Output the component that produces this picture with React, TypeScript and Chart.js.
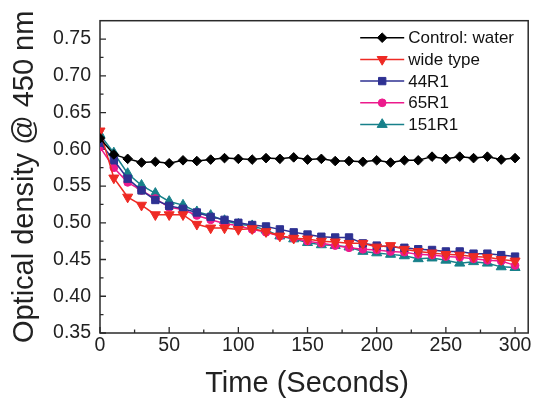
import React, { useEffect, useRef } from 'react';
import { Chart, registerables } from 'chart.js';
import { drawPoint } from 'chart.js/helpers';

Chart.register(...registerables);

const times = [0, 10, 20, 30, 40, 50, 60, 70, 80, 90, 100, 110, 120, 130, 140, 150, 160, 170, 180, 190, 200, 210, 220, 230, 240, 250, 260, 270, 280, 290, 300];

const controlWater = [0.615, 0.593, 0.587, 0.582, 0.583, 0.581, 0.585, 0.584, 0.586, 0.588, 0.587, 0.586, 0.588, 0.587, 0.589, 0.586, 0.587, 0.584, 0.584, 0.583, 0.585, 0.582, 0.585, 0.585, 0.590, 0.587, 0.590, 0.588, 0.590, 0.586, 0.588];
const wideType = [0.625, 0.561, 0.535, 0.524, 0.511, 0.511, 0.511, 0.498, 0.493, 0.493, 0.491, 0.492, 0.488, 0.482, 0.479, 0.478, 0.475, 0.474, 0.472, 0.472, 0.467, 0.469, 0.464, 0.461, 0.459, 0.457, 0.456, 0.454, 0.453, 0.450, 0.448];
const r44R1 = [0.609, 0.585, 0.560, 0.544, 0.531, 0.523, 0.519, 0.514, 0.508, 0.504, 0.500, 0.497, 0.495, 0.491, 0.487, 0.484, 0.481, 0.480, 0.480, 0.472, 0.469, 0.467, 0.466, 0.464, 0.463, 0.461, 0.461, 0.458, 0.458, 0.456, 0.454];
const r65R1 = [0.603, 0.575, 0.555, 0.544, 0.533, 0.521, 0.518, 0.510, 0.504, 0.499, 0.496, 0.491, 0.487, 0.482, 0.479, 0.475, 0.472, 0.469, 0.466, 0.464, 0.463, 0.461, 0.460, 0.457, 0.456, 0.454, 0.453, 0.451, 0.449, 0.448, 0.442];
const r151R1 = [0.620, 0.595, 0.567, 0.551, 0.540, 0.529, 0.524, 0.515, 0.510, 0.503, 0.498, 0.496, 0.490, 0.482, 0.478, 0.473, 0.470, 0.469, 0.467, 0.461, 0.459, 0.457, 0.455, 0.451, 0.452, 0.449, 0.445, 0.447, 0.445, 0.440, 0.439];

const seriesLabels = ['Control: water', 'wide type', '44R1', '65R1', '151R1'];
const xTitle = 'Time (Seconds)';
const yTitle = 'Optical density @ 450 nm';

const xTicks = [0, 50, 100, 150, 200, 250, 300];
const xMinorTicks = [25, 75, 125, 175, 225, 275];
const yTicks = [0.35, 0.4, 0.45, 0.5, 0.55, 0.6, 0.65, 0.7, 0.75];
const yMinorTicks = [0.375, 0.425, 0.475, 0.525, 0.575, 0.625, 0.675, 0.725];

const FONT = "'Liberation Sans', Arial, sans-serif";

const styles = [
  { color: '#000000', pointStyle: 'rectRot', radius: 4.8, rotation: 0 },
  { color: '#ee2a24', pointStyle: 'triangle', radius: 5.8, rotation: 180 },
  { color: '#2e3192', pointStyle: 'rect', radius: 5.2, rotation: 0 },
  { color: '#ec1a8c', pointStyle: 'circle', radius: 3.9, rotation: 0 },
  { color: '#17808a', pointStyle: 'triangle', radius: 5.8, rotation: 0 },
];

const framePlugin = {
  id: 'frameTicks',
  beforeDatasetsDraw(chart: any) {
    const { ctx, chartArea, scales } = chart;
    const { left, right, top, bottom } = chartArea;
    ctx.save();
    ctx.strokeStyle = '#2a2a2a';
    ctx.lineWidth = 1.5;
    ctx.strokeRect(left, top, right - left, bottom - top);
    ctx.lineWidth = 1.3;
    ctx.beginPath();
    xTicks.forEach((v) => {
      const px = scales.x.getPixelForValue(v);
      ctx.moveTo(px, bottom);
      ctx.lineTo(px, bottom - 6);
    });
    xMinorTicks.forEach((v) => {
      const px = scales.x.getPixelForValue(v);
      ctx.moveTo(px, bottom);
      ctx.lineTo(px, bottom - 3.5);
    });
    yTicks.forEach((v) => {
      const py = scales.y.getPixelForValue(v);
      ctx.moveTo(left, py);
      ctx.lineTo(left + 6, py);
    });
    yMinorTicks.forEach((v) => {
      const py = scales.y.getPixelForValue(v);
      ctx.moveTo(left, py);
      ctx.lineTo(left + 3.5, py);
    });
    ctx.stroke();
    ctx.restore();
  },
};

const legendPlugin = {
  id: 'lineLegend',
  afterDraw(chart: any) {
    const { ctx, chartArea } = chart;
    const { right, top, bottom } = chartArea;
    const x0 = right - 168;
    const x1 = right - 124;
    const tx = right - 120;
    ctx.save();
    seriesLabels.forEach((label, i) => {
      const y = top + 17 + i * 21.7;
      const s = styles[i];
      ctx.strokeStyle = s.color;
      ctx.lineWidth = 1.5;
      ctx.beginPath();
      ctx.moveTo(x0, y);
      ctx.lineTo(x1, y);
      ctx.stroke();
      ctx.fillStyle = s.color;
      ctx.strokeStyle = s.color;
      ctx.lineWidth = 1;
      drawPoint(ctx, { pointStyle: s.pointStyle, rotation: s.rotation, radius: s.radius, borderWidth: 1 } as any, (x0 + x1) / 2, y);
      ctx.fillStyle = '#111111';
      ctx.font = `17px ${FONT}`;
      ctx.textAlign = 'left';
      ctx.textBaseline = 'middle';
      ctx.fillText(label, tx, y + 1);
    });
    // x-axis title, slightly left of the plot centre as in the original
    ctx.fillStyle = '#222222';
    ctx.font = `29px ${FONT}`;
    ctx.textAlign = 'center';
    ctx.textBaseline = 'middle';
    ctx.fillText(xTitle, 307, bottom + 51);
    ctx.restore();
  },
};

export default function App() {
  const canvasRef = useRef<HTMLCanvasElement | null>(null);

  useEffect(() => {
    if (!canvasRef.current) return;
    const series = [controlWater, wideType, r44R1, r65R1, r151R1];
    const chart = new Chart(canvasRef.current, {
      type: 'line',
      data: {
        datasets: series.map((vals, i) => ({
          label: seriesLabels[i],
          data: times.map((t, j) => ({ x: t, y: vals[j] })),
          borderColor: styles[i].color,
          backgroundColor: styles[i].color,
          borderWidth: 1.5,
          pointStyle: styles[i].pointStyle as any,
          pointRadius: styles[i].radius,
          pointRotation: styles[i].rotation,
          pointBorderWidth: 1,
          pointBorderColor: styles[i].color,
          pointBackgroundColor: styles[i].color,
          tension: 0,
          fill: false,
        })),
      },
      options: {
        responsive: false,
        animation: false,
        layout: { padding: { top: 11, right: 5, left: 0, bottom: 0 } },
        plugins: {
          legend: { display: false },
          tooltip: { enabled: false },
        },
        scales: {
          x: {
            type: 'linear',
            min: 0,
            max: 309.5,
            grid: { display: false, drawTicks: false },
            border: { display: false },
            afterFit: (scale: any) => {
              scale.height = 69;
            },
            afterBuildTicks: (scale: any) => {
              scale.ticks = xTicks.map((v) => ({ value: v }));
            },
            ticks: {
              padding: 1,
              color: '#222222',
              font: { family: FONT, size: 19.5 },
              callback: (v: any) => String(v),
            },
            title: { display: false, text: xTitle },
          },
          y: {
            type: 'linear',
            min: 0.35,
            max: 0.775,
            grid: { display: false, drawTicks: false },
            border: { display: false },
            afterFit: (scale: any) => {
              scale.width = 100;
            },
            afterBuildTicks: (scale: any) => {
              scale.ticks = yTicks.map((v) => ({ value: v }));
            },
            ticks: {
              padding: 9,
              color: '#222222',
              font: { family: FONT, size: 19.5 },
              callback: (v: any) => Number(v).toFixed(2),
            },
            title: {
              display: true,
              text: yTitle,
              color: '#222222',
              font: { family: FONT, size: 29 },
              padding: { top: 8, bottom: 0 },
            },
          },
        },
      },
      plugins: [framePlugin, legendPlugin],
    });
    return () => chart.destroy();
  }, []);

  return (
    <div style={{ position: 'fixed', left: 0, top: 0, width: 535, height: 402, background: '#ffffff' }}>
      <canvas ref={canvasRef} width={535} height={402} style={{ width: 535, height: 402, display: 'block' }} />
    </div>
  );
}
